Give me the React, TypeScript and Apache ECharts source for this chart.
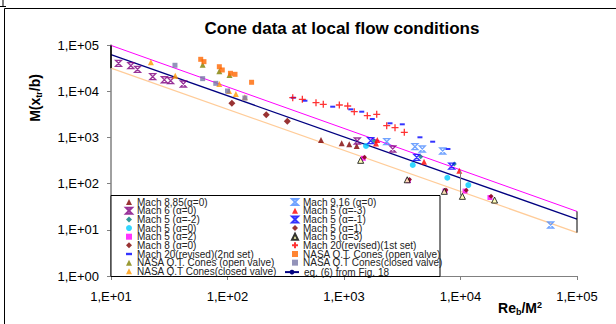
import React, { useEffect, useRef } from "react";
import * as echarts from "echarts";

// ---- tick labels ----
const xTickLabels = ["1,E+01", "1,E+02", "1,E+03", "1,E+04", "1,E+05"];
const yTickLabels = ["1,E+00", "1,E+01", "1,E+02", "1,E+03", "1,E+04", "1,E+05"];

// ---- data: [Re_b/M^2, M(x_tr/b)] ----
const mach885 = [[635, 879], [955, 745], [1110, 709], [1285, 652]];
const mach6 = [[11.6, 40200], [14.8, 35600], [16.9, 29800], [22.8, 20600], [28.7, 17700], [32.5, 16900], [41.8, 14300], [1300, 836], [2620, 561]];
const mach5m2 = [[1811, 849], [4550, 382], [8850, 266]];
const mach5a0 = [[1545, 652], [3890, 253], [7710, 134], [11670, 93]];
const mach5p2 = [[1466, 353], [3565, 116], [7360, 69], [10940, 69], [17900, 50]];
const mach8 = [[109, 5470], [215, 3100], [326, 2240]];
const mach20b = [[367, 7230], [462, 6220], [800, 4620], [1143, 4050], [1420, 3600], [1750, 2500], [2483, 2020], [3165, 1920], [4487, 1005], [5770, 807], [7800, 561]];
const nasaOpenTri = [[61.2, 37500], [85.1, 27000], [104, 22400]];
const nasaClosedTri = [[22, 42200], [35.6, 21700], [85.1, 14300], [103, 10100], [118, 8680], [141, 7380]];
const mach916 = [[2328, 807], [4064, 630], [4697, 561], [7030, 508], [59400, 12.7]];
const mach5m3 = [[1932, 879], [1883, 738], [4864, 298], [9770, 190]];
const mach5m1 = [[1694, 849], [4207, 371], [8400, 240]];
const mach5p1 = [[1500, 372], [3650, 122], [7500, 73], [11200, 72], [18300, 53]];
const mach5p3 = [[1390, 319], [3490, 121], [7260, 68], [10380, 53], [19600, 44]];
const mach20a = [[363, 7230], [439, 6680], [575, 5640], [664, 5200], [912, 5030], [1076, 4780], [1225, 3600], [1585, 2950], [1909, 3160], [2326, 1790], [2741, 1620], [3294, 1290]];
const nasaOpenSq = [[58.9, 49000], [62.8, 43600], [85.1, 33900], [90.2, 28800], [106, 24400], [116, 23200], [161, 15600]];
const nasaClosedSq = [[35.4, 36400], [61.2, 18700], [79.3, 14800], [100, 10100], [141, 7130]];

// correlation lines (end points)
const eq6Line = [[10, 62000], [100000, 17]];
const upperLine = [[10, 98000], [100000, 25]];
const lowerLine = [[10, 31500], [100000, 8.7]];
// bars
const barLeft = [[10, 31500], [10, 98000]];
const barRight = [[100000, 8.7], [100000, 25]];
const barMid = [[10000, 55], [10000, 190]];

const LABELS: Record<string, string> = {
  mach885: "Mach 8,85(α=0)",
  mach6: "Mach 6 (α=0)",
  mach5m2: "Mach 5 (α=-2)",
  mach5a0: "Mach 5 (α=0)",
  mach5p2: "Mach 5 (α=2)",
  mach8: "Mach 8 (α=0)",
  mach20b: "Mach 20(revised)(2nd set)",
  nasaOpenTri: "NASA Q.T. Cones (open valve)",
  nasaClosedTri: "NASA Q.T Cones(closed valve)",
  mach916: "Mach 9,16 (α=0)",
  mach5m3: "Mach 5 (α=-3)",
  mach5m1: "Mach 5 (α=-1)",
  mach5p1: "Mach 5 (α=1)",
  mach5p3: "Mach 5 (α=3)",
  mach20a: "Mach 20(revised)(1st set)",
  nasaOpenSq: "NASA Q.T. Cones (open valve)",
  nasaClosedSq: "NASA Q.T Cones(closed valve)",
  eq6: "eq. (6) from Fig. 18",
};

const leftIds = ["mach885", "mach6", "mach5m2", "mach5a0", "mach5p2", "mach8", "mach20b", "nasaOpenTri", "nasaClosedTri"];
const rightIds = ["mach916", "mach5m3", "mach5m1", "mach5p1", "mach5p3", "mach20a", "nasaOpenSq", "nasaClosedSq"];

const STAR = "path://M0,0H10L0,10H10Z";
const PLUS = "path://M0,5H10M5,0V10";
const DASH = "path://M0,0H5V2H0Z";

function scatter(name: string, data: number[][], symbol: string, size: any, itemStyle: any) {
  return { name, type: "scatter", data, symbol, symbolSize: size, itemStyle, z: 3 };
}
function seg(name: string, data: number[][], color: string, width: number, z = 2) {
  return { name, type: "line", data, symbol: "none", lineStyle: { color, width }, itemStyle: { color }, z };
}

export default function App() {
  const ref = useRef<HTMLDivElement>(null);
  useEffect(() => {
    const chart = echarts.init(ref.current!, null, { renderer: "svg" });
    const legendCommon = {
      orient: "vertical",
      padding: 0,
      itemGap: -1.35,
      itemWidth: 6,
      itemHeight: 6,
      selectedMode: false,
      z: 10,
      formatter: (n: string) => LABELS[n],
      textStyle: { fontFamily: "Liberation Sans, Arial", fontSize: 10, color: "#222", lineHeight: 8.75 },
    };
    const axisFont = { fontFamily: "Liberation Sans, Arial", fontSize: 13, color: "#000" };
    chart.setOption({
      animation: false,
      backgroundColor: "#fff",
      title: {
        text: "Cone data at local flow conditions",
        left: 342,
        top: 20,
        textAlign: "center",
        padding: 0,
        textStyle: { fontFamily: "Liberation Sans, Arial", fontSize: 17, fontWeight: "bold", color: "#000" },
      },
      grid: { left: 111, top: 45, width: 466, height: 231, containLabel: false },
      xAxis: {
        type: "log",
        logBase: 10,
        min: 10,
        max: 100000,
        axisLine: { lineStyle: { color: "#808080", width: 1 } },
        axisTick: { show: true, length: 4, lineStyle: { color: "#808080" } },
        splitLine: { show: false },
        minorTick: { show: false },
        axisLabel: { ...axisFont, margin: 14, formatter: (v: number) => xTickLabels[Math.round(Math.log10(v)) - 1] },
      },
      yAxis: {
        type: "log",
        logBase: 10,
        min: 1,
        max: 100000,
        axisLine: { lineStyle: { color: "#808080", width: 1.5 } },
        axisTick: { show: true, length: 4, lineStyle: { color: "#808080" } },
        splitLine: { show: false },
        minorTick: { show: false },
        axisLabel: { ...axisFont, margin: 12, formatter: (v: number) => yTickLabels[Math.round(Math.log10(v))] },
      },
      legend: [
        { ...legendCommon, left: 125, top: 197.1, data: leftIds },
        { ...legendCommon, left: 291, top: 197.1, data: rightIds },
        { ...legendCommon, left: 284, top: 267.1, itemWidth: 14, data: ["eq6"] },
      ],
      graphic: [
        { type: "rect", z: 1, shape: { x: 4.5, y: 8.5, width: 700, height: 400 }, style: { fill: "none", stroke: "#000", lineWidth: 1 } },
        { type: "line", z: 1, shape: { x1: 3, y1: 0, x2: 3, y2: 6 }, style: { stroke: "#000", lineWidth: 1 } },
        { type: "line", z: 1, shape: { x1: 0, y1: 6.5, x2: 6, y2: 6.5 }, style: { stroke: "#000", lineWidth: 1 } },
        { type: "rect", z: 5, shape: { x: 111, y: 195.5, width: 329, height: 81 }, style: { fill: "#fff", stroke: "#000", lineWidth: 1 } },
        {
          type: "text",
          z: 6,
          x: 35,
          y: 98,
          rotation: Math.PI / 2,
          style: {
            text: "{b|M(x}{s|tr}{b|/b)}",
            align: "center",
            verticalAlign: "middle",
            textAlign: "center",
            textVerticalAlign: "middle",
            rich: {
              b: { fontFamily: "Liberation Sans, Arial", fontSize: 14, fontWeight: "bold", fill: "#000" },
              s: { fontFamily: "Liberation Sans, Arial", fontSize: 9, fontWeight: "bold", fill: "#000", padding: [7, 0, 0, 0] },
            },
          },
        },
        {
          type: "text",
          z: 6,
          x: 520,
          y: 308,
          style: {
            text: "{b|Re}{s|b}{b|/M}{p|2}",
            align: "center",
            verticalAlign: "middle",
            textAlign: "center",
            textVerticalAlign: "middle",
            rich: {
              b: { fontFamily: "Liberation Sans, Arial", fontSize: 14, fontWeight: "bold", fill: "#000" },
              s: { fontFamily: "Liberation Sans, Arial", fontSize: 9, fontWeight: "bold", fill: "#000", padding: [7, 0, 0, 0] },
              p: { fontFamily: "Liberation Sans, Arial", fontSize: 9, fontWeight: "bold", fill: "#000", padding: [0, 0, 7, 0] },
            },
          },
        },
      ],
      series: [
        seg("upper", upperLine, "#FF00FF", 1),
        seg("eq6", eq6Line, "#000080", 1.3),
        seg("lower", lowerLine, "#FFCC99", 1.2),
        seg("barLeft", barLeft, "#000", 1.5, 4),
        seg("barRight", barRight, "#000", 1, 4),
        seg("barMid", barMid, "#808080", 1, 4),
        scatter("mach885", mach885, "triangle", 6, { color: "#800000" }),
        scatter("mach6", mach6, STAR, 6, { color: "rgba(0,0,0,0)", borderColor: "#800080", borderWidth: 1.3 }),
        scatter("mach5m2", mach5m2, "diamond", 5, { color: "#008080" }),
        scatter("mach5a0", mach5a0, "circle", 6, { color: "#00CCFF" }),
        scatter("mach5p2", mach5p2, "rect", 5, { color: "#FF00FF" }),
        scatter("mach8", mach8, "diamond", 7, { color: "#800000" }),
        scatter("mach20b", mach20b, DASH, [5, 2], { color: "#0000FF" }),
        scatter("nasaOpenTri", nasaOpenTri, "triangle", 6, { color: "#808000" }),
        scatter("nasaClosedTri", nasaClosedTri, "triangle", 6, { color: "#FF9900" }),
        scatter("mach916", mach916, STAR, 6, { color: "rgba(0,0,0,0)", borderColor: "#4D8CFF", borderWidth: 1.3 }),
        scatter("mach5m3", mach5m3, "triangle", 6, { color: "#FF0000" }),
        scatter("mach5m1", mach5m1, STAR, 6, { color: "rgba(0,0,0,0)", borderColor: "#0000FF", borderWidth: 1.3 }),
        scatter("mach5p1", mach5p1, "diamond", 5, { color: "#800000" }),
        scatter("mach5p3", mach5p3, "triangle", 6, { color: "#FFFFAA", borderColor: "#000", borderWidth: 1 }),
        scatter("mach20a", mach20a, PLUS, 7, { color: "rgba(0,0,0,0)", borderColor: "#FF0000", borderWidth: 1.3 }),
        scatter("nasaOpenSq", nasaOpenSq, "rect", 5, { color: "#FF6600" }),
        scatter("nasaClosedSq", nasaClosedSq, "rect", 5, { color: "#7878A8" }),
      ],
    });
    return () => chart.dispose();
  }, []);
  return <div ref={ref} style={{ position: "absolute", left: 0, top: 0, width: 616, height: 324, background: "#fff" }} />;
}
